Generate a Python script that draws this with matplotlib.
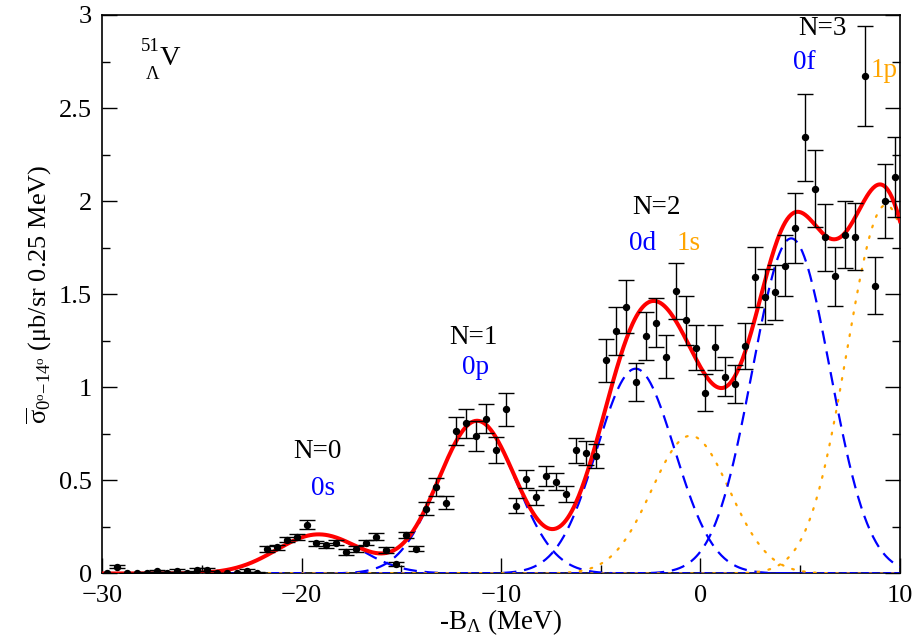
import numpy as np
import matplotlib
matplotlib.use('Agg')
import matplotlib.pyplot as plt

plt.rcParams['font.family'] = ['Liberation Serif', 'DejaVu Serif']
plt.rcParams['mathtext.fontset'] = 'custom'
plt.rcParams['mathtext.rm'] = 'Liberation Serif'
plt.rcParams['mathtext.it'] = 'Liberation Serif:italic'
plt.rcParams['mathtext.bf'] = 'Liberation Serif:bold'

# measured spectrum (bin centres, cross section, error)
energy = np.arange(-29.75, 10.0, 0.5)
sigma = [0.0, 0.035, 0.0, 0.0, 0.005, 0.012, 0.005, 0.015, 0.005, 0.02,
         0.02, 0.0, 0.0, 0.0, 0.015, 0.005,
         0.133, 0.14, 0.182, 0.195, 0.262, 0.162, 0.151, 0.166, 0.115, 0.13,
         0.166, 0.197, 0.127, 0.05, 0.207, 0.134,
         0.348, 0.465, 0.38, 0.767, 0.807, 0.738, 0.831, 0.662, 0.882, 0.363,
         0.507, 0.409, 0.524, 0.494, 0.425, 0.662, 0.648, 0.631,
         1.145, 1.301, 1.433, 1.029, 1.278, 1.347, 1.164, 1.516, 1.36, 1.213,
         0.972, 1.215, 1.057, 1.018, 1.222, 1.592, 1.487, 1.51, 1.653, 1.856,
         2.343, 2.067, 1.806, 1.596, 1.82, 1.809, 2.674, 1.546, 2.0, 2.131]
sigma_err = [0.005, 0.008, 0.005, 0.005, 0.005, 0.006, 0.005, 0.007, 0.005, 0.008,
             0.008, 0.005, 0.005, 0.005, 0.007, 0.005,
             0.015, 0.015, 0.015, 0.015, 0.025, 0.015, 0.015, 0.015, 0.015, 0.015,
             0.015, 0.018, 0.015, 0.012, 0.018, 0.015,
             0.036, 0.048, 0.036, 0.075, 0.077, 0.08, 0.079, 0.07, 0.088, 0.04,
             0.05, 0.042, 0.052, 0.048, 0.043, 0.067, 0.064, 0.063,
             0.115, 0.128, 0.143, 0.101, 0.129, 0.132, 0.116, 0.15, 0.13, 0.12,
             0.098, 0.121, 0.104, 0.103, 0.121, 0.16, 0.147, 0.149, 0.163, 0.186,
             0.233, 0.206, 0.181, 0.159, 0.181, 0.181, 0.268, 0.154, 0.199, 0.215]

# fitted peaks: label, centre, height, width, style
peak_names = ['0s', '0p', '0d', '1s', '0f', '1p']
peak_centre = [-19.15, -11.2, -3.25, -0.5, 4.55, 9.3]
peak_height = [0.21, 0.82, 1.10, 0.74, 1.80, 1.98]
peak_width = [2.1, 1.95, 1.95, 1.95, 1.95, 1.95]
peak_kind = ['dash', 'dash', 'dash', 'dot', 'dash', 'dot']

fig = plt.figure(figsize=(9.16, 6.43), dpi=100)
ax = fig.add_axes([0.1114, 0.1081, 0.8711, 0.8686])

xg = np.linspace(-30, 10, 801)
total = np.zeros_like(xg)
for c, h, w, k in zip(peak_centre, peak_height, peak_width, peak_kind):
    g = h * np.exp(-(xg - c) ** 2 / (2 * w ** 2))
    total += g
    if k == 'dash':
        ax.plot(xg, g, color='#0000ff', lw=1.6, dashes=(6, 3.5), zorder=3)
    else:
        ax.plot(xg, g, color='#ffa500', lw=1.6, dashes=(0.8, 4.2),
                dash_capstyle='round', zorder=3)
ax.plot(xg, total, color='#ff0000', lw=2.9, zorder=4)

ax.errorbar(energy, sigma, yerr=sigma_err, fmt='o', color='black', ms=4.3,
            elinewidth=1.0, capsize=5.6, capthick=1.0, zorder=5)

ax.set_xlim(-30, 10)
ax.set_ylim(0, 3)
ax.set_xticks([-30, -20, -10, 0, 10])
ax.set_xticks([-25, -15, -5, 5], minor=True)
ax.set_yticks([0, 0.5, 1, 1.5, 2, 2.5, 3])
ax.set_yticklabels(['0', '0.5', '1', '1.5', '2', '2.5', '3'])
ax.set_yticks(np.arange(0.25, 3, 0.5), minor=True)
ax.tick_params(which='both', direction='in', right=True, top=False,
               labelsize=19, width=1.0)
ax.tick_params(axis='x', pad=8)
ax.tick_params(axis='y', pad=7.5)
ax.tick_params(which='major', length=11)
ax.tick_params(which='minor', length=6)
for s in ax.spines.values():
    s.set_linewidth(1.2)

ax.set_xlabel(r'-B$_{\Lambda}$ (MeV)', fontsize=19.5, labelpad=0.5)
ax.set_ylabel(r'$\overline{\mathrm{\sigma}}_{0^{\mathrm{o}}\mathrm{-}14^{\mathrm{o}}}$ ($\mathrm{\mu}$b/sr 0.25 MeV)',
              fontsize=19, labelpad=3)

# hypernucleus label
ax.text(-27.6, 2.83, '51', fontsize=13.5, ha='center', va='center')
ax.text(-26.6, 2.765, 'V', fontsize=20.5, ha='center', va='center')
ax.text(-27.44, 2.68, r'$\mathrm{\Lambda}$', fontsize=13.5, ha='center', va='center')

tk = dict(fontsize=19.5, ha='center', va='center')
ax.text(-19.2, 0.655, 'N=0', color='black', **tk)
ax.text(-18.9, 0.458, '0s', color='#0000ff', **tk)
ax.text(-11.4, 1.265, 'N=1', color='black', **tk)
ax.text(-11.3, 1.105, '0p', color='#0000ff', **tk)
ax.text(-2.2, 1.965, 'N=2', color='black', **tk)
ax.text(-2.9, 1.775, '0d', color='#0000ff', **tk)
ax.text(-0.6, 1.775, '1s', color='#ffa500', **tk)
ax.text(6.1, 2.925, 'N=3', color='black', **tk)
ax.text(5.2, 2.745, '0f', color='#0000ff', **tk)
ax.text(9.2, 2.7, '1p', color='#ffa500', clip_on=True, **tk)

fig.savefig('out.png', dpi=100)
